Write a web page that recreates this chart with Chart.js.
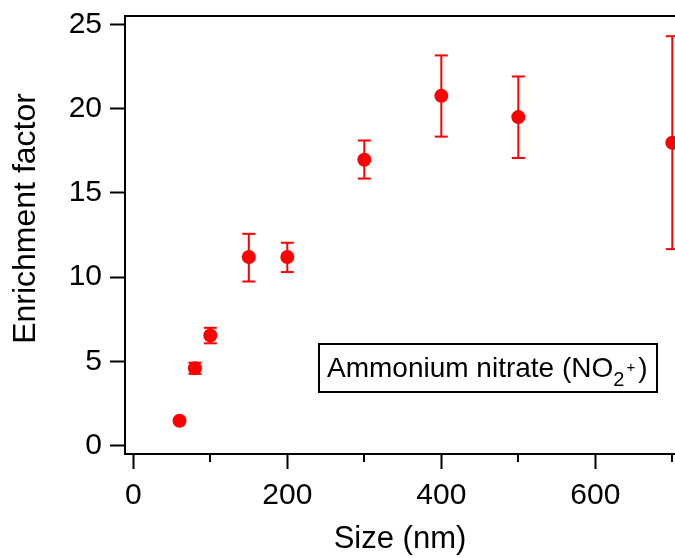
<!DOCTYPE html>
<html>
<head>
<meta charset="utf-8">
<script src="https://cdn.jsdelivr.net/npm/chart.js@4"></script>
<style>
  body { margin: 0; background: #fff; }
  canvas { display: block; }
</style>
</head>
<body>
<canvas id="chart" width="675" height="558"></canvas>
<script>
const sizes = [60, 80, 100, 150, 200, 300, 400, 500, 700];
const enrichment = [1.47, 4.59, 6.53, 11.19, 11.19, 16.97, 20.76, 19.50, 17.98];
const errLow = [1.39, 4.26, 6.07, 9.74, 10.30, 15.85, 18.34, 17.07, 11.66];
const errHigh = [1.55, 4.92, 6.99, 12.57, 12.04, 18.11, 23.16, 21.91, 24.30];
const xMajorTicks = [0, 200, 400, 600];
const xMinorTicks = [100, 300, 500, 700];
const yTicks = [0, 5, 10, 15, 20, 25];
const labelParts = ["Ammonium nitrate (NO", "2", "+", ")"];

const red = "#ff0000";
const fontFamily = "'Liberation Sans', Arial, sans-serif";
Chart.defaults.font.family = fontFamily;
Chart.defaults.color = "#000";

// one little line dataset per error bar, caps drawn as 'line' points
const errorSets = sizes.map((x, i) => ({
    data: [{ x: x, y: errLow[i] }, { x: x, y: errHigh[i] }],
    showLine: true,
    borderColor: red,
    borderWidth: 2,
    pointStyle: "line",
    pointRadius: 6.5,
    pointBorderWidth: 2,
    pointBorderColor: red,
    clip: false
}));

const pointSet = {
    data: sizes.map((x, i) => ({ x: x, y: enrichment[i] })),
    backgroundColor: red,
    borderWidth: 0,
    pointRadius: 7,
    pointBorderWidth: 0,
    clip: false
};

const decorations = {
    id: "decorations",
    afterDraw(chart) {
        const ctx = chart.ctx;
        const xs = chart.scales.x;
        const area = chart.chartArea;
        ctx.save();

        // frame line on top, short minor ticks on the x axis
        ctx.strokeStyle = "#000";
        ctx.lineWidth = 2;
        ctx.beginPath();
        ctx.moveTo(area.left - 1, Math.round(area.top));
        ctx.lineTo(area.right, Math.round(area.top));
        ctx.stroke();
        xMinorTicks.forEach(v => {
            const px = Math.round(xs.getPixelForValue(v));
            ctx.beginPath();
            ctx.moveTo(px, area.bottom);
            ctx.lineTo(px, area.bottom + 8);
            ctx.stroke();
        });

        // label box
        const boxLeft = 319, boxTop = 344, boxW = 338, boxH = 48;
        let tx = boxLeft + 8;
        const base = 377;
        ctx.fillStyle = "#000";
        ctx.textBaseline = "alphabetic";
        ctx.textAlign = "left";
        ctx.font = "28px " + fontFamily;
        ctx.fillText(labelParts[0], tx, base);
        tx += ctx.measureText(labelParts[0]).width;
        ctx.font = "20px " + fontFamily;
        ctx.fillText(labelParts[1], tx, base + 9);
        tx += ctx.measureText(labelParts[1]).width + 2;
        ctx.font = "15px " + fontFamily;
        ctx.fillText(labelParts[2], tx, base - 5);
        tx += ctx.measureText(labelParts[2]).width + 3;
        ctx.font = "28px " + fontFamily;
        ctx.fillText(labelParts[3], tx, base);

        ctx.lineWidth = 2;
        ctx.strokeRect(boxLeft, boxTop, boxW, boxH);
        ctx.restore();
    }
};

new Chart(document.getElementById("chart"), {
    type: "scatter",
    data: { datasets: [...errorSets, pointSet] },
    options: {
        responsive: false,
        animation: false,
        layout: { autoPadding: false, padding: { top: 16, left: 0, right: 0, bottom: 0 } },
        plugins: { legend: { display: false }, tooltip: { enabled: false } },
        scales: {
            x: {
                type: "linear",
                position: "bottom",
                min: -10.8,
                max: 703.5,
                afterBuildTicks: s => { s.ticks = xMajorTicks.map(v => ({ value: v })); },
                afterFit: s => { s.height = 104; s.paddingLeft = 0; s.paddingRight = 0; },
                grid: { display: true, drawOnChartArea: false, drawTicks: true, tickLength: 15, tickColor: "#000", tickWidth: 2 },
                border: { display: true, color: "#000", width: 2 },
                ticks: { font: { size: 30 }, padding: 9, maxRotation: 0, color: "#000" },
                title: { display: true, text: "Size (nm)", font: { size: 31 }, padding: { top: 0, bottom: 0 }, color: "#000" }
            },
            y: {
                type: "linear",
                position: "left",
                min: -0.5,
                max: 25.5,
                afterBuildTicks: s => { s.ticks = yTicks.map(v => ({ value: v })); },
                afterFit: s => { s.width = 125; s.paddingTop = 0; s.paddingBottom = 0; },
                grid: { display: true, drawOnChartArea: false, drawTicks: true, tickLength: 15, tickColor: "#000", tickWidth: 2 },
                border: { display: true, color: "#000", width: 2 },
                ticks: { font: { size: 30 }, padding: 8, color: "#000" },
                title: { display: true, text: "\u00a0\u00a0\u00a0\u2009Enrichment factor", font: { size: 32 }, padding: { top: 7, bottom: 0 }, color: "#000" }
            }
        }
    },
    plugins: [decorations]
});
</script>
</body>
</html>
